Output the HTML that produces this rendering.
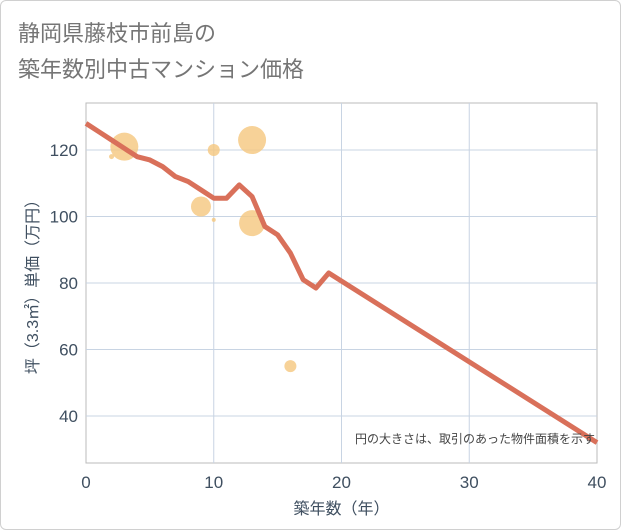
<!DOCTYPE html>
<html><head><meta charset="utf-8"><style>
body{margin:0;background:#fff;}
#wrap{position:relative;width:619px;height:528px;border:1px solid #d0d0d0;border-radius:6px;background:#fff;font-family:"Liberation Sans","Noto Sans CJK JP",sans-serif;}
.t{position:absolute;left:17px;font-size:22px;color:#757575;}
</style></head><body>
<div id="wrap">
<div class="t" style="top:15px">静岡県藤枝市前島の</div>
<div class="t" style="top:51px">築年数別中古マンション価格</div>
<svg id="c" width="621" height="530" style="position:absolute;left:-1px;top:-1px"></svg>
</div>
<script>
const lineX=[0,1,2,3,4,5,6,7,8,9,10,11,12,13,14,15,16,17,18,19,40];
const lineY=[128,125.5,123,120.5,118,117,115,112,110.5,108,105.5,105.5,109.5,106,97,94.5,89,81,78.5,83,32];
const bubX=[3,2,10,13,9,10,13,16];
const bubY=[121,118,120,123,103,99,98,55];
const bubR=[14,2.5,6,14,10,2,13,6];
const xTicks=[0,10,20,30,40];
const yTicks=[40,60,80,100,120];
const L=86,R=597,T=103,B=463;
const sx=v=>L+v*(R-L)/40;
const sy=v=>150+(120-v)*3.325;
const svg=document.getElementById('c');const NS='http://www.w3.org/2000/svg';
function mk(tag,at,txt){const e=document.createElementNS(NS,tag);for(const k in at)e.setAttribute(k,at[k]);if(txt!==undefined)e.textContent=txt;svg.appendChild(e);return e;}
let e=mk('rect',{x:L,y:T,width:R-L,height:B-T,fill:'#fff',stroke:'#bbb'});


xTicks.forEach(v=>{
 if(v>0&&v<40){const g=mk('line',{x1:sx(v),x2:sx(v),y1:T,y2:B,stroke:'#c8d4e3'});
 
 }
 const t=mk('text',{x:sx(v),y:B+25,'text-anchor':'middle','font-size':17,fill:'#3f4f60'},v);
 
 
});
yTicks.forEach(v=>{
 const g=mk('line',{x1:L,x2:R,y1:sy(v),y2:sy(v),stroke:'#c8d4e3'});
 
 
 const t=mk('text',{x:L-8,y:sy(v)+6,'text-anchor':'end','font-size':17,fill:'#3f4f60'},v);
 
 
});
bubX.forEach((v,i)=>{
 const c=mk('circle',{cx:sx(v),cy:sy(bubY[i]),r:bubR[i],fill:'#f5c77e',opacity:0.8});
 
 
});
const p=mk('polyline',{points:lineX.map((v,i)=>sx(v)+','+sy(lineY[i])).join(' '),fill:'none',stroke:'#d9705a','stroke-width':5,'stroke-linejoin':'round'});


let n=mk('text',{x:R-2,y:443,'text-anchor':'end','font-size':12,fill:'#444'},'円の大きさは、取引のあった物件面積を示す');


let xt=mk('text',{x:(L+R)/2,y:514,'text-anchor':'middle','font-size':16,fill:'#3f4f60'},'築年数（年）');


let yt=mk('text',{x:0,y:0,'text-anchor':'middle','font-size':16,fill:'#3f4f60',transform:'translate(38,283) rotate(-90)'},'坪（3.3㎡）単価（万円）');


</script>
</body></html>
